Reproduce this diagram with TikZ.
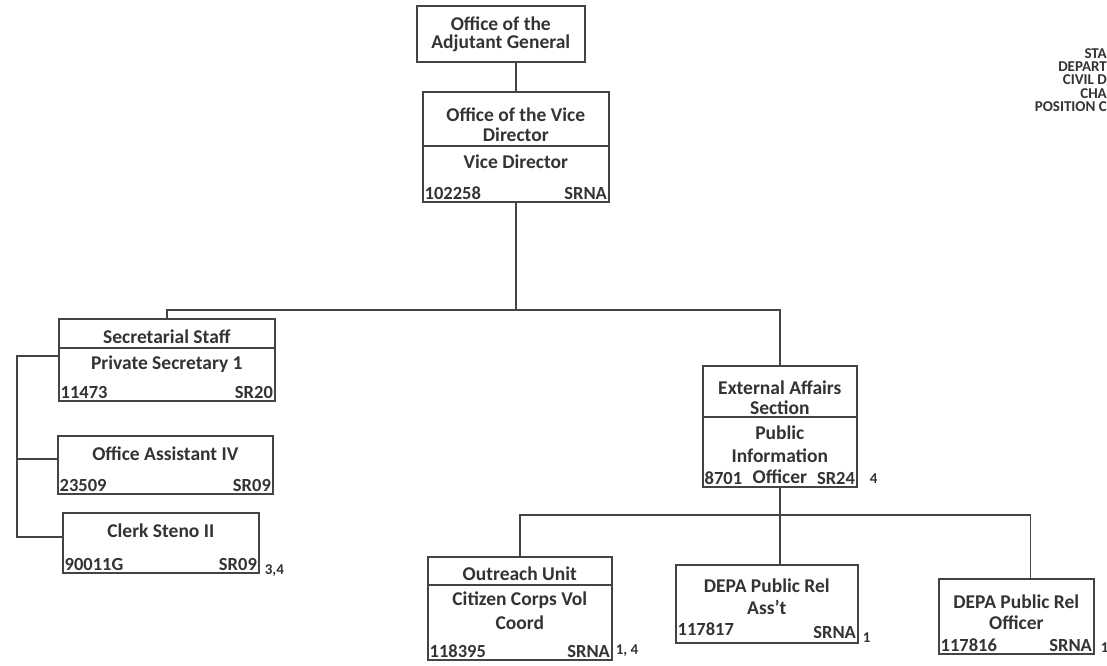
\documentclass[tikz,border=0pt]{standalone}
\usepackage{fontspec}
\setmainfont{Carlito}
\usetikzlibrary{positioning,calc}
\definecolor{ink}{HTML}{333333}
\definecolor{rule}{HTML}{444444}
\tikzset{
  unit/.style={rectangle, draw=rule, line width=1.6pt, inner sep=0pt, anchor=north west},
  ttl/.style={font=\fontsize{19.5}{20}\selectfont\bfseries, text=ink, inner sep=0pt},
  code/.style={font=\fontsize{18.5}{19}\selectfont\bfseries, text=ink, inner sep=2.5pt},
  note/.style={font=\fontsize{15}{16}\selectfont\bfseries, text=ink, inner sep=0pt, anchor=base west},
  hdr/.style={font=\fontsize{15}{13.4}\selectfont\bfseries, text=ink, inner sep=0pt, align=right, anchor=north east},
  link/.style={draw=rule, line width=1.6pt}
}

\begin{document}
\begin{tikzpicture}[x=1pt, y=-1pt]
  \useasboundingbox (0,0) rectangle (1107,665);
  % header, cut off at the page edge
  \node[hdr] (hdr) at (1107,48) {STA\\DEPART\\CIVIL D\\CHA\\POSITION C};

  % boxes
  \node[unit, minimum width=168pt, minimum height=56pt] (adj) at (416,5) {};
  \node[unit, minimum width=186pt, minimum height=110pt] (vd) at (422,91) {};
  \node[unit, minimum width=216pt, minimum height=82pt] (sec) at (58,318) {};
  \node[unit, minimum width=215pt, minimum height=58pt] (oa) at (57,435) {};
  \node[unit, minimum width=196pt, minimum height=60pt] (clk) at (62,512) {};
  \node[unit, minimum width=154pt, minimum height=121pt] (ext) at (702,365) {};
  \node[unit, minimum width=184pt, minimum height=103pt] (out) at (427,556) {};
  \node[unit, minimum width=182pt, minimum height=78pt] (rel1) at (675,564) {};
  \node[unit, minimum width=155pt, minimum height=75pt] (rel2) at (938,578) {};

  % dividers
  \draw[link] (vd.west |- 0,146) -- (vd.east |- 0,146);
  \draw[link] (sec.west |- 0,348) -- (sec.east |- 0,348);
  \draw[link] (ext.west |- 0,417) -- (ext.east |- 0,417);
  \draw[link] (out.west |- 0,585) -- (out.east |- 0,585);

  % titles
  \node[ttl] at (adj.north |- 0,24) {Office of the};
  \node[ttl] at (adj.north |- 0,43) {Adjutant General};
  \node[ttl] at (vd.north |- 0,115) {Office of the Vice};
  \node[ttl] at (vd.north |- 0,135) {Director};
  \node[ttl] at (vd.north |- 0,162) {Vice Director};
  \node[ttl] at (sec.north |- 0,337) {Secretarial Staff};
  \node[ttl] at (sec.north |- 0,364) {Private Secretary 1};
  \node[ttl] at (oa.north |- 0,454) {Office Assistant IV};
  \node[ttl] at (clk.north |- 0,531) {Clerk Steno II};
  \node[ttl] at (ext.north |- 0,388) {External Affairs};
  \node[ttl] at (ext.north |- 0,408) {Section};
  \node[ttl] at (ext.north |- 0,433) {Public};
  \node[ttl] at (ext.north |- 0,456) {Information};
  \node[ttl] at (ext.north |- 0,477) {Officer};
  \node[ttl] at (out.north |- 0,574) {Outreach Unit};
  \node[ttl] at (out.north |- 0,600) {Citizen Corps Vol};
  \node[ttl] at (out.north |- 0,623) {Coord};
  \node[ttl] at (rel1.north |- 0,586) {DEPA Public Rel};
  \node[ttl] at (rel1.north |- 0,607) {Ass't};
  \node[ttl] at (rel2.north |- 0,602) {DEPA Public Rel};
  \node[ttl] at (rel2.north |- 0,623) {Officer};

  % position numbers and grades
  \node[code, anchor=south west] at (vd.south west) {102258};
  \node[code, anchor=south east] at (vd.south east) {SRNA};
  \node[code, anchor=south west] at (sec.south west) {11473};
  \node[code, anchor=south east] at (sec.south east) {SR20};
  \node[code, anchor=south west] at (oa.south west) {23509};
  \node[code, anchor=south east] at (oa.south east) {SR09};
  \node[code, anchor=south west] at (clk.south west) {90011G};
  \node[code, anchor=south east] at (clk.south east) {SR09};
  \node[code, anchor=south west] at (ext.south west) {8701};
  \node[code, anchor=south east] at (ext.south east) {SR24};
  \node[code, anchor=south west] at (out.south west) {118395};
  \node[code, anchor=south east] at (out.south east) {SRNA};
  \node[code, anchor=south west] at ([yshift=5pt]rel1.south west) {117817};
  \node[code, anchor=south east] at ([yshift=2pt]rel1.south east) {SRNA};
  \node[code, anchor=south west] at (rel2.south west) {117816};
  \node[code, anchor=south east] at (rel2.south east) {SRNA};

  % footnotes
  \node[note] (n1) at ([xshift=5pt,yshift=-1pt]clk.south east) {3,4};
  \node[note] (n2) at ([xshift=12pt,yshift=4pt]ext.south east) {4};
  \node[note] (n3) at ([xshift=3pt,yshift=6pt]out.south east) {1, 4};
  \node[note] (n4) at ([xshift=4pt,yshift=1pt]rel1.south east) {1};
  \node[note] (n5) at ([xshift=6pt,yshift=2pt]rel2.south east) {1};

  % connectors
  \draw[link] (vd.north) -- (vd.north |- adj.south);
  \coordinate (bus1) at (vd.south |- 0,310);
  \draw[link] (vd.south) -- (bus1);
  \draw[link] (sec.north) |- (bus1) -| (ext.north);
  \coordinate (rail) at (17,0);
  \coordinate (clkin) at ([yshift=6pt]clk.west);
  \draw[link] ([yshift=4pt]sec.west) -| (rail |- clkin) -- (clkin);
  \draw[link] ([yshift=6pt]oa.west) -- ([yshift=6pt]oa.west -| rail);
  \coordinate (bus2) at (ext.south |- 0,515);
  \draw[link] (ext.south) -- (ext.south |- rel1.north);
  \draw[link] (out.north) |- (bus2) -| ([xshift=14pt]rel2.north);
\end{tikzpicture}
\end{document}
